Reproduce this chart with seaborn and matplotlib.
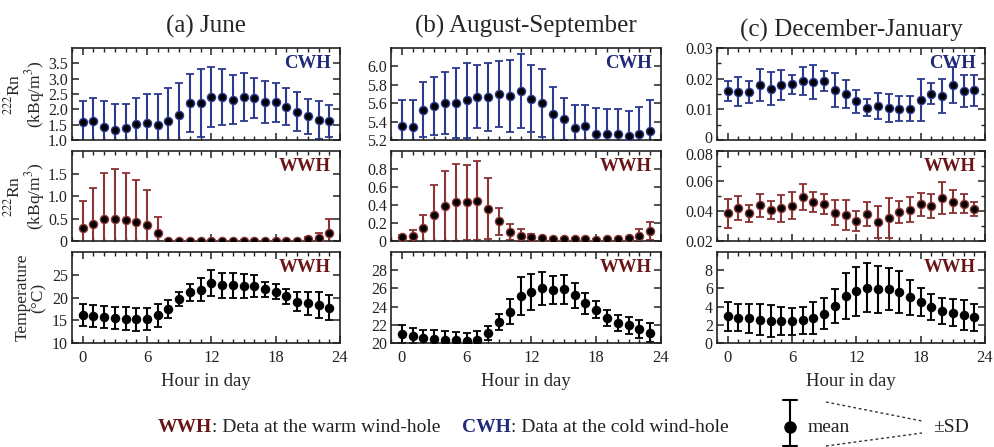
import matplotlib
matplotlib.use("Agg")
import matplotlib.pyplot as plt
import matplotlib.transforms as mtransforms
import numpy as np
import pandas as pd
import seaborn as sns
from matplotlib.ticker import FixedLocator, MultipleLocator, FuncFormatter

hours = list(range(24))

# ---- (a) June ----
jun_cwh_mean = [1.59, 1.63, 1.41, 1.31, 1.39, 1.51, 1.57, 1.50, 1.62, 1.83, 2.21, 2.20,
                2.40, 2.40, 2.32, 2.40, 2.37, 2.23, 2.23, 2.09, 1.92, 1.77, 1.64, 1.62]
jun_cwh_sd = [0.69, 0.74, 0.85, 0.87, 0.79, 0.86, 0.94, 1.00, 1.06, 1.04, 0.95, 1.11,
              0.97, 0.90, 0.80, 0.77, 0.66, 0.68, 0.63, 0.59, 0.64, 0.57, 0.62, 0.52]
jun_wwh_mean = [0.28, 0.37, 0.48, 0.50, 0.47, 0.43, 0.36, 0.17, 0.01, 0.01, 0.01, 0.01,
                0.01, 0.01, 0.01, 0.01, 0.01, 0.01, 0.01, 0.01, 0.01, 0.04, 0.07, 0.17]
jun_wwh_sd = [0.62, 0.81, 1.04, 1.11, 1.05, 0.92, 0.77, 0.36, 0.01, 0.01, 0.01, 0.01,
              0.01, 0.01, 0.01, 0.01, 0.01, 0.01, 0.01, 0.01, 0.01, 0.05, 0.11, 0.33]
jun_temp_mean = [16.15, 15.95, 15.75, 15.55, 15.35, 15.2, 15.3, 16.1, 17.5, 19.7, 21.15, 21.75,
                 23.2, 22.65, 22.7, 22.5, 22.55, 21.8, 21.25, 20.25, 19.1, 18.7, 18.4, 17.75]
jun_temp_sd = [2.35, 2.35, 2.35, 2.45, 2.55, 2.5, 2.5, 2.5, 1.9, 1.6, 1.85, 2.45,
               2.8, 2.75, 2.7, 2.7, 2.45, 1.6, 1.65, 1.65, 2.1, 2.5, 2.8, 2.75]

# ---- (b) August-September ----
aug_cwh_mean = [5.35, 5.34, 5.53, 5.57, 5.60, 5.60, 5.63, 5.67, 5.67, 5.70, 5.68, 5.73,
                5.65, 5.60, 5.48, 5.43, 5.33, 5.35, 5.26, 5.26, 5.26, 5.24, 5.27, 5.30]
aug_cwh_sd = [0.28, 0.30, 0.30, 0.32, 0.34, 0.38, 0.41, 0.34, 0.37, 0.36, 0.39, 0.40,
              0.36, 0.37, 0.30, 0.23, 0.25, 0.23, 0.29, 0.28, 0.28, 0.27, 0.29, 0.33]
aug_wwh_mean = [0.045, 0.06, 0.14, 0.29, 0.39, 0.43, 0.43, 0.45, 0.36, 0.22, 0.10, 0.06,
                0.04, 0.03, 0.02, 0.02, 0.02, 0.02, 0.015, 0.02, 0.02, 0.03, 0.06, 0.11]
aug_wwh_sd = [0.025, 0.06, 0.15, 0.33, 0.39, 0.43, 0.42, 0.44, 0.34, 0.15, 0.09, 0.07,
              0.04, 0.02, 0.01, 0.01, 0.01, 0.01, 0.01, 0.01, 0.01, 0.02, 0.07, 0.10]
aug_temp_mean = [21.0, 20.8, 20.55, 20.45, 20.35, 20.3, 20.2, 20.35, 21.1, 22.3, 23.45, 25.15,
                 25.6, 26.0, 25.85, 25.9, 25.25, 24.35, 23.65, 22.75, 22.2, 21.95, 21.55, 21.15]
aug_temp_sd = [1.0, 0.85, 0.9, 0.98, 0.95, 0.87, 0.9, 0.95, 0.8, 0.9, 1.35, 2.05,
               2.0, 1.8, 1.55, 1.6, 1.35, 1.15, 0.95, 0.85, 0.9, 0.95, 0.95, 1.05]

# ---- (c) December-January ----
dec_cwh_mean = [0.0159, 0.0158, 0.01555, 0.0179, 0.01675, 0.01785, 0.0181, 0.01925, 0.01885,
                0.01925, 0.01635, 0.01495, 0.0126, 0.01055, 0.01105, 0.01035, 0.01025, 0.01025,
                0.0131, 0.01515, 0.01435, 0.01785, 0.01595, 0.01615]
dec_cwh_sd = [0.0033, 0.0048, 0.00355, 0.0051, 0.00535, 0.00485, 0.003, 0.00465, 0.00555,
              0.00335, 0.00555, 0.00465, 0.0038, 0.00285, 0.00435, 0.00455, 0.00395, 0.00395,
              0.0069, 0.00345, 0.00555, 0.00585, 0.00535, 0.00515]
dec_wwh_mean = [0.0385, 0.0419, 0.0385, 0.0438, 0.0408, 0.0418, 0.0436, 0.0494, 0.0462, 0.0446,
                0.0389, 0.0373, 0.0334, 0.0380, 0.0327, 0.0353, 0.0394, 0.0410, 0.0444, 0.0433,
                0.0484, 0.0463, 0.0450, 0.0413]
dec_wwh_sd = [0.0095, 0.0079, 0.0055, 0.0078, 0.0058, 0.0092, 0.0089, 0.0084, 0.0068, 0.0069,
              0.0082, 0.0098, 0.0066, 0.0080, 0.0107, 0.0132, 0.0074, 0.0084, 0.0076, 0.0081,
              0.0107, 0.0076, 0.0066, 0.0045]
dec_temp_mean = [2.92, 2.8, 2.7, 2.56, 2.42, 2.44, 2.38, 2.48, 2.75, 3.22, 4.08, 5.15,
                 5.66, 6.06, 5.89, 5.9, 5.62, 5.01, 4.5, 3.95, 3.53, 3.34, 3.07, 2.84]
dec_temp_sd = [1.58, 1.5, 1.6, 1.68, 1.73, 1.56, 1.47, 1.45, 1.72, 1.73, 1.83, 2.52,
               2.73, 2.7, 2.54, 2.29, 2.27, 1.96, 1.53, 1.47, 1.47, 1.5, 1.62, 1.47]

titles = ["(a) June", "(b) August-September", "(c) December-January"]

CWH_TEXT = "#1f2a78"
WWH_TEXT = "#6a1416"
CWH_BAR = "#2b3a8f"
WWH_BAR = "#8a3434"

sns.set_theme(style="ticks")
plt.rcParams["font.family"] = ["Liberation Serif", "DejaVu Serif"]
plt.rcParams["mathtext.fontset"] = "stix"
plt.rcParams["axes.edgecolor"] = "#222222"
plt.rcParams["axes.linewidth"] = 1.2

fig = plt.figure(figsize=(9.94, 4.47), dpi=100)

W, H = 994.0, 447.0
col_px = [(72, 340), (391, 661), (717, 985)]
row_px = [(48, 140), (151, 241), (252, 343)]


def add_ax(c, r):
    x0, x1 = col_px[c]
    y0, y1 = row_px[r]
    return fig.add_axes([x0 / W, 1 - y1 / H, (x1 - x0) / W, (y1 - y0) / H])


def make_formatter(dec):
    def fmt(v, _):
        if abs(v) < 1e-12:
            return "0"
        return f"{v:.{dec}f}"
    return FuncFormatter(fmt)


panels = [
    # (col, row, mean, sd, bar colour, tag, tag colour, ylim, yticks, yminor, decimals)
    (0, 0, jun_cwh_mean, jun_cwh_sd, CWH_BAR, "CWH", CWH_TEXT, (1.0, 4.0),
     [1.0, 1.5, 2.0, 2.5, 3.0, 3.5], None, 1),
    (0, 1, jun_wwh_mean, jun_wwh_sd, WWH_BAR, "WWH", WWH_TEXT, (0, 2.0),
     [0, 0.5, 1.0, 1.5], None, 1),
    (0, 2, jun_temp_mean, jun_temp_sd, "black", "WWH", WWH_TEXT, (10, 30),
     [10, 15, 20, 25], None, 0),
    (1, 0, aug_cwh_mean, aug_cwh_sd, CWH_BAR, "CWH", CWH_TEXT, (5.2, 6.2),
     [5.2, 5.4, 5.6, 5.8, 6.0], None, 1),
    (1, 1, aug_wwh_mean, aug_wwh_sd, WWH_BAR, "WWH", WWH_TEXT, (0, 1.0),
     [0, 0.2, 0.4, 0.6, 0.8], None, 1),
    (1, 2, aug_temp_mean, aug_temp_sd, "black", "WWH", WWH_TEXT, (20, 30),
     [20, 22, 24, 26, 28], None, 0),
    (2, 0, dec_cwh_mean, dec_cwh_sd, CWH_BAR, "CWH", CWH_TEXT, (0, 0.03),
     [0, 0.01, 0.02, 0.03], 0.005, 2),
    (2, 1, dec_wwh_mean, dec_wwh_sd, WWH_BAR, "WWH", WWH_TEXT, (0.02, 0.08),
     [0.02, 0.04, 0.06, 0.08], 0.01, 2),
    (2, 2, dec_temp_mean, dec_temp_sd, "black", "WWH", WWH_TEXT, (0, 10),
     [0, 2, 4, 6, 8], None, 0),
]

axes = {}
for (c, r, mean, sd, bar_c, tag, tag_c, ylim, yticks, yminor, dec) in panels:
    ax = add_ax(c, r)
    axes[(c, r)] = ax
    df = pd.DataFrame({"hour": hours, "mean": mean, "sd": sd})
    ax.errorbar(df["hour"], df["mean"], yerr=df["sd"], fmt="none", ecolor=bar_c,
                elinewidth=1.5, capsize=2.6, capthick=1.3, zorder=2)
    sns.scatterplot(data=df, x="hour", y="mean", ax=ax, color="black", s=34,
                    edgecolor=bar_c, linewidth=1.0, zorder=3, legend=False)
    ax.set_xlim(-1, 24)
    ax.set_ylim(*ylim)
    ax.xaxis.set_major_locator(MultipleLocator(6))
    ax.xaxis.set_minor_locator(MultipleLocator(1))
    ax.yaxis.set_major_locator(FixedLocator(yticks))
    if yminor:
        ax.yaxis.set_minor_locator(MultipleLocator(yminor))
    ax.yaxis.set_major_formatter(make_formatter(dec))
    ax.tick_params(axis="both", which="both", direction="in", top=True, right=True,
                   bottom=True, left=True, colors="#222222", labelcolor="#222222")
    ax.tick_params(axis="both", which="major", length=5, width=1.1, labelsize=11.5)
    ax.tick_params(axis="both", which="minor", length=3, width=1.0)
    ax.tick_params(axis="y", which="major", pad=3)
    ax.set_xlabel("")
    ax.set_ylabel("")
    if r < 2:
        ax.tick_params(axis="x", labelbottom=False)
    else:
        ax.set_xlabel("Hour in day", fontsize=13.5, labelpad=5)
        ax.tick_params(axis="x", pad=5, labelsize=12)
    ax.text(0.965, 0.83, tag, transform=ax.transAxes, ha="right", va="center",
            fontsize=13.5, fontweight="bold", color=tag_c)
    if r == 0:
        ax.set_title(titles[c], fontsize=18, pad=11 if c < 2 else 8)

# nudge the two tick labels that meet between the upper panels of column (c)
top_ticks = axes[(2, 0)].yaxis.get_major_ticks()
mid_ticks = axes[(2, 1)].yaxis.get_major_ticks()
lbl = top_ticks[0].label1
lbl.set_transform(lbl.get_transform() + mtransforms.ScaledTranslation(0, 2.5 / 72, fig.dpi_scale_trans))
lbl = mid_ticks[-1].label1
lbl.set_transform(lbl.get_transform() + mtransforms.ScaledTranslation(0, -2.5 / 72, fig.dpi_scale_trans))

rn_label = "$^{222}$Rn\n(kBq/m$^3$)"
for r, lab in [(0, rn_label), (1, rn_label), (2, "Temperature\n(°C)")]:
    ax = axes[(0, r)]
    ax.set_ylabel(lab, fontsize=12.5, linespacing=0.95)
    ax.yaxis.set_label_coords(-0.095, 0.5)

# ---- key along the bottom edge ----
ov = fig.add_axes([0, 0, 1, 1], zorder=5)
ov.set_xlim(0, W)
ov.set_ylim(H, 0)
ov.axis("off")
ov.patch.set_alpha(0)

renderer = fig.canvas.get_renderer()
ky = 428
fs = 14


def run_text(x, parts):
    for txt, weight, color in parts:
        t = ov.text(x, ky, txt, fontsize=fs, fontweight=weight, color=color,
                    ha="left", va="center")
        x = t.get_window_extent(renderer).x1
    return x


run_text(158, [("WWH", "bold", WWH_TEXT), (": Deta at the warm wind-hole", "normal", "#222222")])
run_text(462, [("CWH", "bold", CWH_TEXT), (": Data at the cold wind-hole", "normal", "#222222")])

ov.plot([790, 790], [400, 447], color="black", lw=1.5)
ov.plot([783, 797], [400, 400], color="black", lw=1.5)
ov.plot([783, 797], [446, 446], color="black", lw=1.5)
ov.plot([790], [427], marker="o", ms=8, color="black")
ov.text(808, ky, "mean", fontsize=fs, ha="left", va="center", color="#222222")
ov.plot([826, 922], [402, 421], color="#333333", lw=1.0, ls=(0, (2, 2)))
ov.plot([826, 922], [446, 433], color="#333333", lw=1.0, ls=(0, (2, 2)))
ov.text(933, ky, "±SD", fontsize=fs, ha="left", va="center", color="#222222")

fig.savefig("out.png", dpi=100)
